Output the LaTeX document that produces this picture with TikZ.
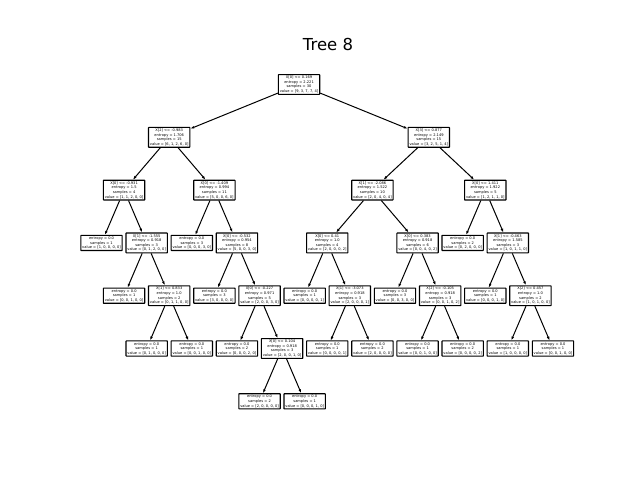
\documentclass[tikz,border=0pt]{standalone}
\usepackage{fontspec}
\setmainfont{DejaVu Sans}
\usetikzlibrary{arrows.meta}
\begin{document}
\begin{tikzpicture}[x=1pt,y=-1pt,
  tn/.style={draw, line width=1.1pt, fill=white, align=center, inner sep=1.4pt,
    rounded corners=0.4pt, font=\fontsize{3.6}{4.6}\selectfont},
  edge/.style={line width=1pt, -{Latex[length=3.8pt,width=2.8pt]}}]
\useasboundingbox (0,0) rectangle (640,480);
\def\ux{45.15}
\def\ox{101.5}
\node[font=\fontsize{16.5}{18}\selectfont] (title) at (328,44) {Tree 8};
% level 0
\node[tn] (n) at ({\ox+\ux*4.375},84.5) {X[0] <= 0.169\\entropy = 2.221\\samples = 30\\value = [9, 3, 7, 7, 4]};
% level 1
\node[tn] (nL) at ({\ox+\ux*1.5},137.3) {X[2] <= -0.983\\entropy = 1.706\\samples = 15\\value = [6, 1, 2, 6, 0]};
\node[tn] (nR) at ({\ox+\ux*7.25},137.3) {X[3] <= 0.877\\entropy = 2.149\\samples = 15\\value = [3, 2, 5, 1, 4]};
% level 2
\node[tn] (nLL) at ({\ox+\ux*0.5},190.1) {X[0] <= -0.931\\entropy = 1.5\\samples = 4\\value = [1, 1, 2, 0, 0]};
\node[tn] (nLR) at ({\ox+\ux*2.5},190.1) {X[0] <= -1.409\\entropy = 0.994\\samples = 11\\value = [5, 0, 0, 6, 0]};
\node[tn] (nRL) at ({\ox+\ux*6},190.1) {X[1] <= -2.086\\entropy = 1.522\\samples = 10\\value = [2, 0, 4, 0, 4]};
\node[tn] (nRR) at ({\ox+\ux*8.5},190.1) {X[0] <= 1.411\\entropy = 1.922\\samples = 5\\value = [1, 2, 1, 1, 0]};
% level 3
\node[tn] (nLLL) at ({\ox+\ux*0},242.9) {entropy = 0.0\\samples = 1\\value = [1, 0, 0, 0, 0]};
\node[tn] (nLLR) at ({\ox+\ux*1},242.9) {X[1] <= -1.555\\entropy = 0.918\\samples = 3\\value = [0, 1, 2, 0, 0]};
\node[tn] (nLRL) at ({\ox+\ux*2},242.9) {entropy = 0.0\\samples = 3\\value = [0, 0, 0, 3, 0]};
\node[tn] (nLRR) at ({\ox+\ux*3},242.9) {X[0] <= -0.532\\entropy = 0.954\\samples = 8\\value = [5, 0, 0, 3, 0]};
\node[tn] (nRLL) at ({\ox+\ux*5},242.9) {X[0] <= 0.41\\entropy = 1.0\\samples = 4\\value = [2, 0, 0, 0, 2]};
\node[tn] (nRLR) at ({\ox+\ux*7},242.9) {X[0] <= 0.383\\entropy = 0.918\\samples = 6\\value = [0, 0, 4, 0, 2]};
\node[tn] (nRRL) at ({\ox+\ux*8},242.9) {entropy = 0.0\\samples = 2\\value = [0, 2, 0, 0, 0]};
\node[tn] (nRRR) at ({\ox+\ux*9},242.9) {X[1] <= -0.463\\entropy = 1.585\\samples = 3\\value = [1, 0, 1, 1, 0]};
% level 4
\node[tn] (nLLRL) at ({\ox+\ux*0.5},295.7) {entropy = 0.0\\samples = 1\\value = [0, 0, 1, 0, 0]};
\node[tn] (nLLRR) at ({\ox+\ux*1.5},295.7) {X[1] <= 0.833\\entropy = 1.0\\samples = 2\\value = [0, 1, 1, 0, 0]};
\node[tn] (nLRRL) at ({\ox+\ux*2.5},295.7) {entropy = 0.0\\samples = 3\\value = [3, 0, 0, 0, 0]};
\node[tn] (nLRRR) at ({\ox+\ux*3.5},295.7) {X[0] <= -0.227\\entropy = 0.971\\samples = 5\\value = [2, 0, 0, 3, 0]};
\node[tn] (nRLLL) at ({\ox+\ux*4.5},295.7) {entropy = 0.0\\samples = 1\\value = [0, 0, 0, 0, 1]};
\node[tn] (nRLLR) at ({\ox+\ux*5.5},295.7) {X[1] <= -3.073\\entropy = 0.918\\samples = 3\\value = [2, 0, 0, 0, 1]};
\node[tn] (nRLRL) at ({\ox+\ux*6.5},295.7) {entropy = 0.0\\samples = 3\\value = [0, 0, 3, 0, 0]};
\node[tn] (nRLRR) at ({\ox+\ux*7.5},295.7) {X[2] <= -0.105\\entropy = 0.918\\samples = 3\\value = [0, 0, 1, 0, 2]};
\node[tn] (nRRRL) at ({\ox+\ux*8.5},295.7) {entropy = 0.0\\samples = 1\\value = [0, 0, 0, 1, 0]};
\node[tn] (nRRRR) at ({\ox+\ux*9.5},295.7) {X[2] <= 0.457\\entropy = 1.0\\samples = 2\\value = [1, 0, 1, 0, 0]};
% level 5
\node[tn] (a1) at ({\ox+\ux*1},348.5) {entropy = 0.0\\samples = 1\\value = [0, 1, 0, 0, 0]};
\node[tn] (a2) at ({\ox+\ux*2},348.5) {entropy = 0.0\\samples = 1\\value = [0, 0, 1, 0, 0]};
\node[tn] (a3) at ({\ox+\ux*3},348.5) {entropy = 0.0\\samples = 2\\value = [0, 0, 0, 2, 0]};
\node[tn] (a4) at ({\ox+\ux*4},348.5) {X[0] <= 0.104\\entropy = 0.918\\samples = 3\\value = [2, 0, 0, 1, 0]};
\node[tn] (a5) at ({\ox+\ux*5},348.5) {entropy = 0.0\\samples = 1\\value = [0, 0, 0, 0, 1]};
\node[tn] (a6) at ({\ox+\ux*6},348.5) {entropy = 0.0\\samples = 2\\value = [2, 0, 0, 0, 0]};
\node[tn] (a7) at ({\ox+\ux*7},348.5) {entropy = 0.0\\samples = 1\\value = [0, 0, 1, 0, 0]};
\node[tn] (a8) at ({\ox+\ux*8},348.5) {entropy = 0.0\\samples = 2\\value = [0, 0, 0, 0, 2]};
\node[tn] (a9) at ({\ox+\ux*9},348.5) {entropy = 0.0\\samples = 1\\value = [1, 0, 0, 0, 0]};
\node[tn] (a10) at ({\ox+\ux*10},348.5) {entropy = 0.0\\samples = 1\\value = [0, 0, 1, 0, 0]};
% level 6
\node[tn] (b1) at ({\ox+\ux*3.5},401.3) {entropy = 0.0\\samples = 2\\value = [2, 0, 0, 0, 0]};
\node[tn] (b2) at ({\ox+\ux*4.5},401.3) {entropy = 0.0\\samples = 1\\value = [0, 0, 0, 1, 0]};
% edges
\foreach \p/\c in {n/nL, n/nR, nL/nLL, nL/nLR, nR/nRL, nR/nRR,
  nLL/nLLL, nLL/nLLR, nLR/nLRL, nLR/nLRR, nRL/nRLL, nRL/nRLR, nRR/nRRL, nRR/nRRR,
  nLLR/nLLRL, nLLR/nLLRR, nLRR/nLRRL, nLRR/nLRRR, nRLL/nRLLL, nRLL/nRLLR,
  nRLR/nRLRL, nRLR/nRLRR, nRRR/nRRRL, nRRR/nRRRR,
  nLLRR/a1, nLLRR/a2, nLRRR/a3, nLRRR/a4, nRLLR/a5, nRLLR/a6,
  nRLRR/a7, nRLRR/a8, nRRRR/a9, nRRRR/a10, a4/b1, a4/b2}
  \draw[edge] (\p) -- (\c);
\end{tikzpicture}
\end{document}
